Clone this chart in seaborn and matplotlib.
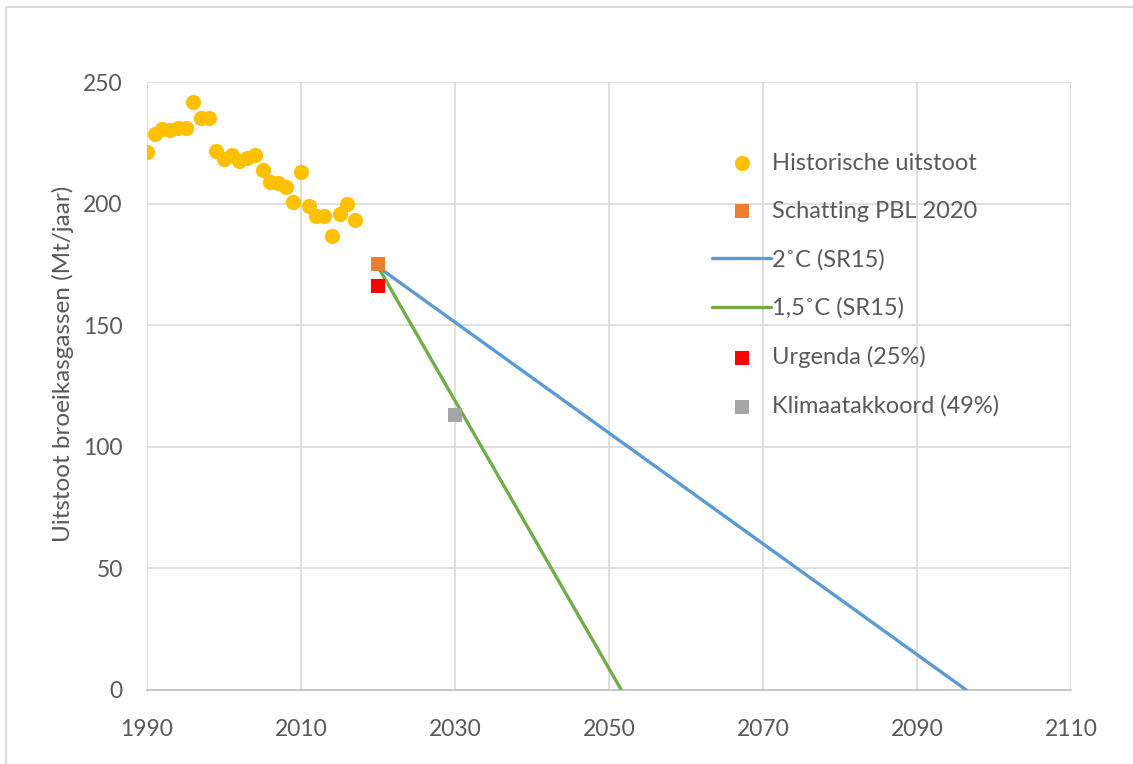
import matplotlib
matplotlib.use("Agg")
import matplotlib.pyplot as plt
import seaborn as sns
import pandas as pd
from matplotlib.patches import Rectangle

# Historische uitstoot (Mt/jaar)
hist_years = list(range(1990, 2018))
hist_values = [221.3, 228.6, 230.5, 230.3, 231.0, 231.0, 241.6, 235.0, 235.0, 221.6,
               218.3, 220.0, 217.5, 218.6, 220.0, 213.8, 209.0, 208.3, 207.0, 200.5,
               213.0, 199.0, 195.0, 195.0, 186.7, 195.6, 200.0, 193.2]

pbl_year, pbl_value = [2020], [175]
urgenda_year, urgenda_value = [2020], [166]
klimaat_year, klimaat_value = [2030], [113]

path_2c_years = [2020, 2096.4]
path_2c_values = [174, 0]
path_15c_years = [2020, 2051.6]
path_15c_values = [174, 0]

x_ticks = [1990, 2010, 2030, 2050, 2070, 2090, 2110]
y_ticks = [0, 50, 100, 150, 200, 250]

sns.set_style("white")
plt.rcParams["font.family"] = ["Lato", "DejaVu Sans"]

fig = plt.figure(figsize=(11.33, 7.64), dpi=100)
ax = fig.add_axes([147 / 1133, 1 - 690 / 764, 924 / 1133, 608 / 764])

hist = pd.DataFrame({"jaar": hist_years, "uitstoot": hist_values})
sns.scatterplot(data=hist, x="jaar", y="uitstoot", ax=ax, color="#FFC000",
                s=120, linewidth=0, label="Historische uitstoot", zorder=4)
sns.scatterplot(x=pbl_year, y=pbl_value, ax=ax, color="#ED7D31", marker="s",
                s=95, linewidth=0, label="Schatting PBL 2020", zorder=5)
sns.lineplot(x=path_2c_years, y=path_2c_values, ax=ax, color="#5B9BD5",
             linewidth=2.4, label="2˚C (SR15)", zorder=3)
sns.lineplot(x=path_15c_years, y=path_15c_values, ax=ax, color="#70AD47",
             linewidth=2.4, label="1,5˚C (SR15)", zorder=3)
sns.scatterplot(x=urgenda_year, y=urgenda_value, ax=ax, color="#FF0000", marker="s",
                s=95, linewidth=0, label="Urgenda (25%)", zorder=5)
sns.scatterplot(x=klimaat_year, y=klimaat_value, ax=ax, color="#A5A5A5", marker="s",
                s=95, linewidth=0, label="Klimaatakkoord (49%)", zorder=5)

ax.set_xlim(1990, 2110)
ax.set_ylim(0, 250)
ax.set_xticks(x_ticks)
ax.set_yticks(y_ticks)
ax.grid(True, color="#D9D9D9", linewidth=1.2, zorder=0)
ax.set_axisbelow(True)
for side in ["top", "right", "left"]:
    ax.spines[side].set_visible(False)
ax.spines["bottom"].set_color("#BFBFBF")
ax.spines["bottom"].set_linewidth(1.2)
ax.tick_params(axis="both", colors="#595959", labelsize=16.5)
ax.tick_params(axis="x", length=0, pad=21)
ax.tick_params(axis="y", length=6.5, width=1.2, color="#D9D9D9", pad=11)

ax.set_xlabel("")
ax.set_ylabel("Uitstoot broeikasgassen (Mt/jaar)", fontsize=17.5, color="#595959")
ax.yaxis.set_label_coords(-0.079, 0.536)

ax.legend(loc="upper left", bbox_to_anchor=(0.6115, 0.884), frameon=False,
          fontsize=17, labelcolor="#595959", handlelength=2.5, handletextpad=0.05,
          labelspacing=1.15, borderaxespad=0, borderpad=0, markerscale=1.0)

# outer chart border (only left and top edges fall inside the picture)
fig.patches.append(Rectangle((6 / 1133, -0.1), 1.2, 1.1 - 7 / 764,
                             transform=fig.transFigure, fill=False,
                             edgecolor="#D9D9D9", linewidth=1.5))

fig.savefig("out.png", dpi=100)
plt.close(fig)
